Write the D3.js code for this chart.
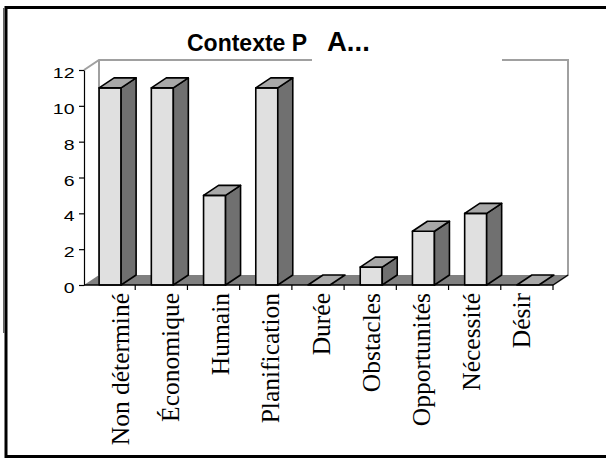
<!DOCTYPE html>
<html><head><meta charset="utf-8">
<script src="https://cdn.jsdelivr.net/npm/d3@7"></script>
<style>body{margin:0;background:#fff}</style></head>
<body>
<svg id="c" width="606" height="459"></svg>
<script>
const categories = ["Non déterminé","Économique","Humain","Planification","Durée","Obstacles","Opportunités","Nécessité","Désir"];
const values = [11,11,5,11,0,1,3,4,0];
const yTicks = [0,2,4,6,8,10,12];
const titleMain = "Contexte P";
const titleTail = "A...";

const svg = d3.select("#c");
const x = d3.scaleBand().domain(categories).range([83,553]);
const y = d3.scaleLinear().domain([0,12]).range([285,70]);
const xLab = d3.scalePoint().domain(categories).range([129,530]);
const DX = 15, DY = -10;

// outer frame
svg.append("rect").attr("x",6).attr("y",7.5).attr("width",640).attr("height",449)
  .attr("fill","#fff").attr("stroke","#000").attr("stroke-width",3);
svg.append("line").attr("x1",4).attr("x2",4).attr("y1",8).attr("y2",333)
  .attr("stroke","#666").attr("stroke-width",2);

// walls
const x0 = x.range()[0]+1, x1 = x.range()[1], y0 = y(0), yTop = y(12);
svg.append("path")
  .attr("d",`M${x0},${yTop}L${x0+DX},${yTop+DY}L${x1+DX},${yTop+DY}L${x1+DX},${y0+DY}L${x1},${y0}`)
  .attr("fill","none").attr("stroke","#a0a0a0").attr("stroke-width",2);
svg.append("line").attr("x1",x0+DX).attr("x2",x0+DX).attr("y1",yTop+DY).attr("y2",y0+DY)
  .attr("stroke","#a0a0a0").attr("stroke-width",2);

// floor
svg.append("path")
  .attr("d",`M${x0},${y0}L${x1},${y0}L${x1+DX},${y0+DY}L${x0+DX},${y0+DY}Z`)
  .attr("fill","#808080");
svg.append("line").attr("x1",x1).attr("y1",y0).attr("x2",x1+DX).attr("y2",y0+DY)
  .attr("stroke","#000").attr("stroke-width",1.2);

// bars
const bw = 22;
const g = svg.append("g").attr("stroke","#000").attr("stroke-width",1.6).attr("stroke-linejoin","round");
categories.forEach((c,i)=>{
  const v = values[i];
  const bx = x(c) + x.bandwidth()/2 - bw/2 + 1;
  const yt = y(v), yb = y(0);
  if (v > 0) {
    g.append("rect").attr("x",bx).attr("y",yt).attr("width",bw).attr("height",yb-yt).attr("fill","#e0e0e0");
    g.append("path").attr("d",`M${bx+bw},${yt}L${bx+bw+DX},${yt+DY}L${bx+bw+DX},${yb+DY}L${bx+bw},${yb}Z`).attr("fill","#707070");
  }
  g.append("path").attr("d",`M${bx},${yt}L${bx+DX},${yt+DY}L${bx+bw+DX},${yt+DY}L${bx+bw},${yt}Z`).attr("fill","#a8a8a8");
});

// y axis
const ya = svg.append("g").attr("transform",`translate(${x0},0)`)
  .call(d3.axisLeft(y).tickValues(yTicks).tickSize(5).tickSizeOuter(0).tickPadding(4.5));
ya.select(".domain").attr("stroke","#000").attr("stroke-width",1.2);
ya.selectAll(".tick line").attr("stroke","#000").attr("stroke-width",1.2);
ya.selectAll(".tick text").attr("font-family","'Liberation Sans', Arial, sans-serif")
  .attr("font-size",15).attr("fill","#000").attr("dy","0.5em")
  .each(function(){ const w=this.getComputedTextLength(); d3.select(this).attr("textLength",w*1.3).attr("lengthAdjust","spacingAndGlyphs"); });

// x axis
svg.append("line").attr("x1",x0).attr("x2",x1).attr("y1",y0).attr("y2",y0)
  .attr("stroke","#000").attr("stroke-width",1.4);
const bounds = categories.map(c=>x(c)).slice(1).concat([x1]);
svg.append("g").selectAll("line").data(bounds).join("line")
  .attr("x1",d=>d).attr("x2",d=>d).attr("y1",y0).attr("y2",y0+5)
  .attr("stroke","#000").attr("stroke-width",1.2);

svg.append("g").selectAll("text").data(categories).join("text")
  .attr("transform",d=>`translate(${xLab(d)},293) rotate(-90)`)
  .attr("text-anchor","end")
  .attr("font-family","'Liberation Serif','Times New Roman',serif")
  .attr("font-size",25.5).attr("fill","#000")
  .text(d=>d);

// title
svg.append("rect").attr("x",312).attr("y",25).attr("width",190).attr("height",38).attr("fill","#fff");
svg.append("text").attr("x",187).attr("y",50.5)
  .attr("font-family","'Liberation Sans', Arial, sans-serif").attr("font-weight","bold")
  .attr("font-size",23).attr("fill","#000").text(titleMain);
svg.append("text").attr("x",327).attr("y",50.7)
  .attr("font-family","'Liberation Sans', Arial, sans-serif").attr("font-weight","bold")
  .attr("font-size",27.5).attr("fill","#000").text(titleTail);
</script>
</body></html>
